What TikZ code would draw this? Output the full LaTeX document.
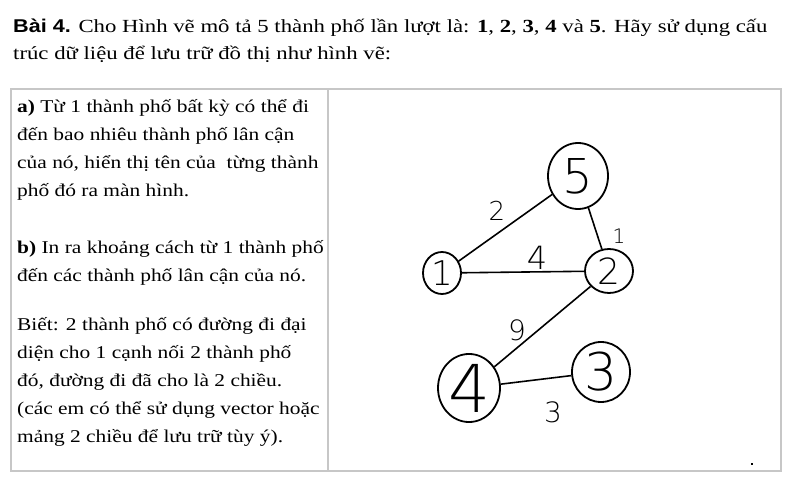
\documentclass[tikz,border=0pt]{standalone}
\usepackage{fontspec}
\setmainfont{Liberation Serif}[FakeStretch=1.23]
\newfontfamily\cellfont{Liberation Serif}[FakeStretch=1.19]
\newfontfamily\titlesans{Liberation Sans}[FakeStretch=1.17]
\newfontfamily\handfont{DejaVu Sans ExtraLight}
\usetikzlibrary{shapes.geometric}

\begin{document}
\begin{tikzpicture}[x=1pt, y=-1pt,
    city/.style={ellipse, draw=black, line width=1.8pt, inner sep=0pt, font=\handfont},
    road/.style={draw=black, line width=1.6pt},
    weight/.style={inner sep=0pt, font=\handfont},
    line/.style={inner sep=0pt, anchor=base west, font=\cellfont\fontsize{18}{27}\selectfont},
    frame/.style={draw=black!22, line width=1.4pt}]
				\useasboundingbox (0,0) rectangle (810,486);

				% title
				\node[line, font=\rmfamily\fontsize{18.5}{30}\selectfont] (t1) at (13,33){{\titlesans\bfseries Bài 4.} Cho Hình vẽ mô tả 5 thành phố lần lượt là: \textbf{1}, \textbf{2}, \textbf{3}, \textbf{4} và \textbf{5}. Hãy sử dụng cấu};
				\node[line, font=\rmfamily\fontsize{18.5}{30}\selectfont] (t2) at (13,60){trúc dữ liệu để lưu trữ đồ thị như hình vẽ:};

				% table
				\path[frame] (11,89) rectangle (781,471);
				\path[frame] (328,89) -- (328,471);

				\node[line] (a1) at (17,113){\textbf{a)} Từ 1 thành phố bất kỳ có thể đi};
				\node[line] (a2) at (17,141){đến bao nhiêu thành phố lân cận};
				\node[line] (a3) at (17,169){của nó, hiển thị tên của\ \ từng thành};
				\node[line] (a4) at (17,197){phố đó ra màn hình.};

				\node[line] (b1) at (17,253){\textbf{b)} In ra khoảng cách từ 1 thành phố};
				\node[line] (b2) at (17,281){đến các thành phố lân cận của nó.};

				\node[line] (n1) at (17,330){Biết: 2 thành phố có đường đi đại};
				\node[line] (n2) at (17,358){diện cho 1 cạnh nối 2 thành phố};
				\node[line] (n3) at (17,386){đó, đường đi đã cho là 2 chiều.};
				\node[line] (n4) at (17,414){(các em có thể sử dụng vector hoặc};
				\node[line] (n5) at (17,442){mảng 2 chiều để lưu trữ tùy ý).};

				\fill (751,463) rectangle (753,465);

				% graph
				\node[city, minimum width=38pt, minimum height=42pt, font=\handfont\fontsize{34}{34}\selectfont] (c1) at (442,273){1};
				\node[city, minimum width=48pt, minimum height=44pt, font=\handfont\fontsize{36}{36}\selectfont] (c2) at (609,271){2};
				\node[city, minimum width=58pt, minimum height=60pt, font=\handfont\fontsize{52}{52}\selectfont] (c3) at (601,372){3};
				\node[city, minimum width=62pt, minimum height=66pt, font=\handfont\fontsize{66}{66}\selectfont] (c4) at (469,388){4};
				\node[city, minimum width=60pt, minimum height=66pt, font=\handfont\fontsize{48}{48}\selectfont] (c5) at (578,176){5};

				\path[road] (c1) edge (c5);
				\path[road] (c1) edge (c2);
				\path[road] (c5) edge (c2);
				\path[road] (c2) edge (c4);
				\path[road] (c4) edge (c3);

				\node[weight, font=\handfont\fontsize{26}{26}\selectfont] (w15) at (497,211){2};
				\node[weight, font=\handfont\fontsize{32}{32}\selectfont] (w12) at (537,258){4};
				\node[weight, font=\handfont\fontsize{20}{20}\selectfont] (w52) at (619,236){1};
				\node[weight, font=\handfont\fontsize{28}{28}\selectfont] (w24) at (517,330){9};
				\node[weight, font=\handfont\fontsize{28}{28}\selectfont] (w43) at (553,412){3};
\end{tikzpicture}
\end{document}
